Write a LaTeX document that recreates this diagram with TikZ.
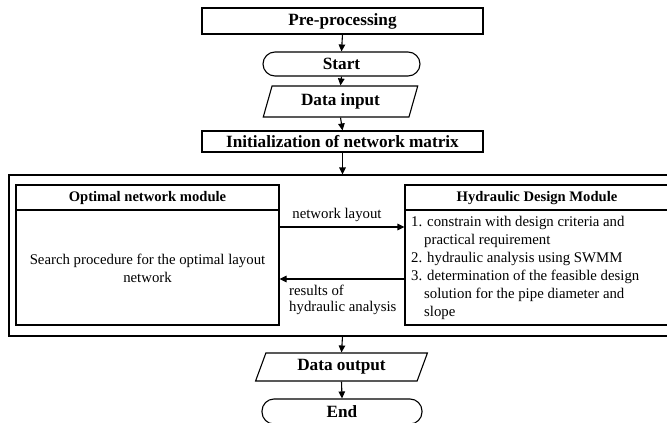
\documentclass[tikz,border=0pt]{standalone}
\usepackage{fontspec}
\setmainfont{Liberation Serif}
\usetikzlibrary{arrows.meta,shapes.geometric}
\begin{document}
\begin{tikzpicture}[x=1pt,y=-1pt,
  box/.style={draw,line width=1.1pt,inner sep=0pt},
  flowtxt/.style={font=\fontsize{17.2}{20}\selectfont\bfseries},
  hdtxt/.style={font=\fontsize{14.6}{17}\selectfont\bfseries},
  bodytxt/.style={font=\fontsize{14.8}{18}\selectfont},
  lbltxt/.style={font=\fontsize{14.8}{16}\selectfont},
  arr/.style={line width=1.1pt,-{Triangle[length=7pt,width=6.5pt]}},
  para/.style={trapezium,trapezium stretches=true},
]
\clip (0,0) rectangle (667,423);
% main flow
\node[box,flowtxt,minimum width=281pt,minimum height=26pt] (pre) at (342.5,21) {Pre-processing};
\node[box,flowtxt,rounded corners=12pt,minimum width=157pt,minimum height=24pt] (start) at (341.5,64) {Start};
\node[box,flowtxt,para,trapezium left angle=72,trapezium right angle=108,minimum width=155pt,minimum height=31pt] (din) at (340.5,101.5) {Data input};
\node[box,flowtxt,minimum width=281pt,minimum height=21pt] (init) at (342.5,141.5) {Initialization of network matrix};
% outer frame
\node[box,minimum width=667pt,minimum height=161pt] (outer) at (342.5,255.5) {};
% optimal network module
\node[box,minimum width=263pt,minimum height=140pt] (opt) at (147.5,255) {};
\draw[line width=1.1pt] (opt.west |- 0,210) -- (opt.east |- 0,210);
\node[hdtxt] (opth) at (147.5,198) {Optimal network module};
\node[bodytxt,align=center] (optb) at (147.5,268) {Search procedure for the optimal layout\\network};
% hydraulic design module
\node[box,minimum width=264pt,minimum height=140pt] (hyd) at (537,255) {};
\draw[line width=1.1pt] (hyd.west |- 0,210) -- (hyd.east |- 0,210);
\node[hdtxt] (hydh) at (537,198) {Hydraulic Design Module};
\node[bodytxt,align=left,anchor=west,inner sep=0pt] (hydb) at (411,268) {1. constrain with design criteria and\\
\hspace*{13pt}practical requirement\\
2. hydraulic analysis using SWMM\\
3. determination of the feasible design\\
\hspace*{13pt}solution for the pipe diameter and\\
\hspace*{13pt}slope};
% module connectors
\draw[arr] (opt.east |- 0,227) -- (hyd.west |- 0,227);
\node[lbltxt] (nl) at (337,215) {network layout};
\draw[arr] (hyd.west |- 0,279) -- (opt.east |- 0,279);
\node[lbltxt,align=left,anchor=north west,inner sep=0pt] (rh) at (289,285) {results of\\hydraulic analysis};
% output
\node[box,flowtxt,para,trapezium left angle=68,trapezium right angle=112,minimum width=173pt,minimum height=28pt] (dout) at (341.5,367) {Data output};
\node[box,flowtxt,rounded corners=12pt,minimum width=160pt,minimum height=25pt] (endn) at (342,411.5) {End};
% connectors
\draw[arr] (pre.south) -- (start.north);
\draw[arr] (start.south) -- (din.north);
\draw[arr] (din.south) -- (init.north);
\draw[arr] (init.south) -- (outer.north);
\draw[arr] (outer.south) -- (dout.north);
\draw[arr] (dout.south) -- (endn.north);
\end{tikzpicture}
\end{document}
